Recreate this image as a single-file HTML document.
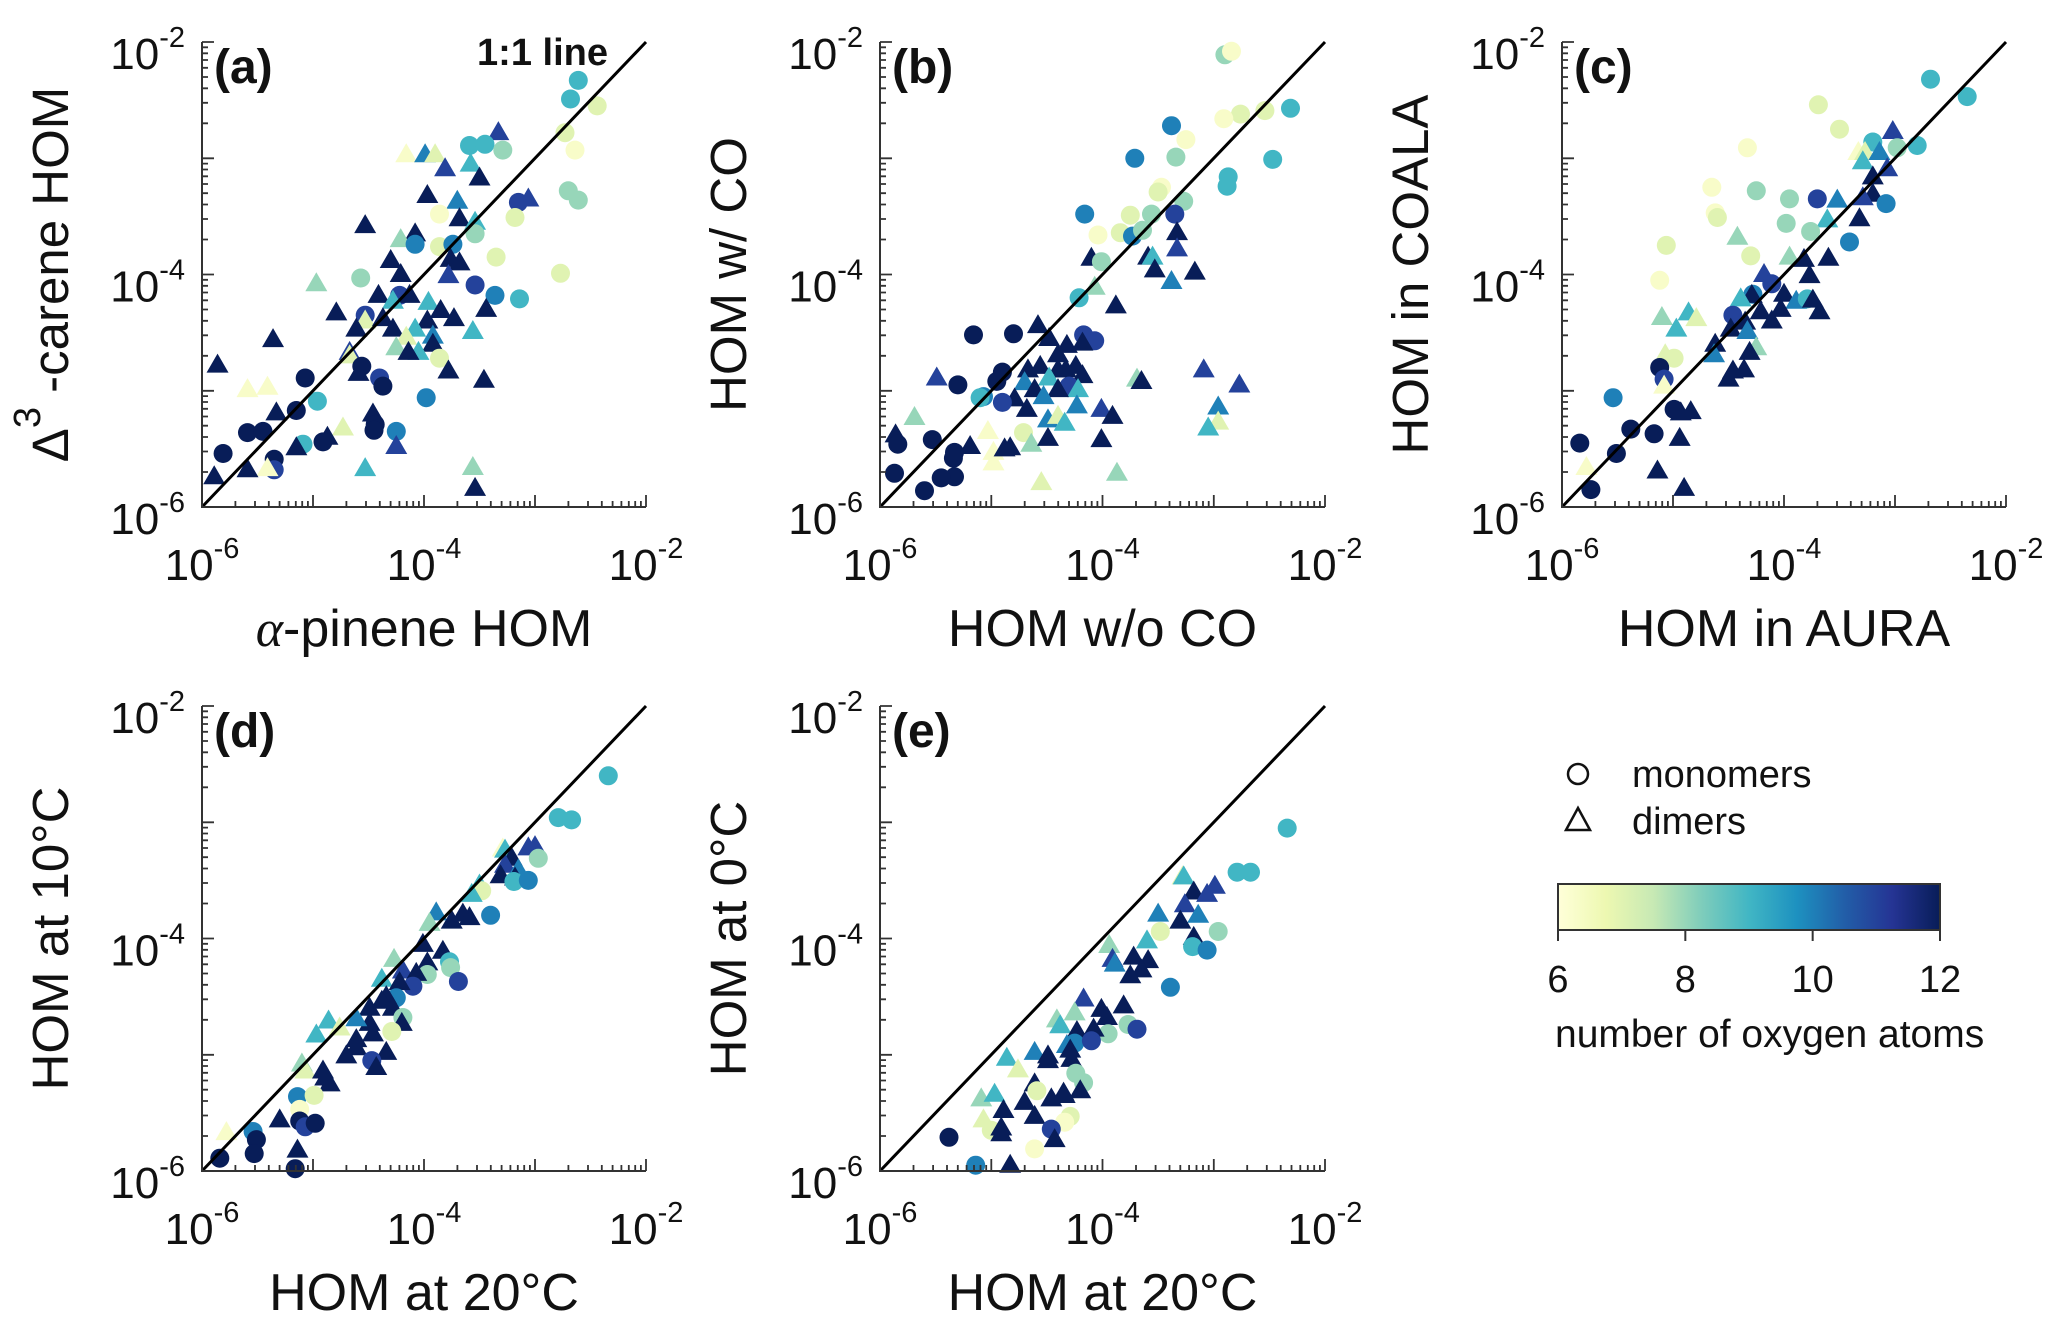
<!DOCTYPE html>
<html><head><meta charset="utf-8"><style>
html,body{margin:0;padding:0;background:#fff;}
svg{display:block;font-family:"Liberation Sans",Arial,sans-serif;}
</style></head><body>
<svg id="fig" xmlns="http://www.w3.org/2000/svg" width="2067" height="1329" viewBox="0 0 2067 1329">
<defs>
<linearGradient id="ylgnbu" x1="0" x2="1" y1="0" y2="0">
<stop offset="0" stop-color="#ffffd9"/><stop offset="0.125" stop-color="#edf8b1"/><stop offset="0.25" stop-color="#c7e9b4"/><stop offset="0.375" stop-color="#7fcdbb"/><stop offset="0.5" stop-color="#41b6c4"/><stop offset="0.625" stop-color="#1d91c0"/><stop offset="0.75" stop-color="#225ea8"/><stop offset="0.875" stop-color="#253494"/><stop offset="1" stop-color="#081d58"/>
</linearGradient>
</defs>
<g id="layer"></g>
<g>
<circle cx="1578" cy="774" r="10" fill="none" stroke="#111" stroke-width="2.5"/>
<text x="1632" y="787" font-size="38" fill="#111">monomers</text>
<polygon points="1578,808 1566,830 1590,830" fill="none" stroke="#111" stroke-width="2.5"/>
<text x="1632" y="834" font-size="38" fill="#111">dimers</text>
</g>
<g>
<rect x="1558" y="884" width="382" height="46" fill="url(#ylgnbu)" stroke="#333" stroke-width="2"/>
<g id="cbticks"></g>
<text x="1555" y="1047" font-size="39" fill="#111">number of oxygen atoms</text>
</g>
</svg>
<script>
// ---------- data (log10 values) ----------
const aX=[-2.61,-2.68,-2.44,-2.73,-2.64,-3.33,-3.59,-3.45,-3.29,-4.16,-3.99,-3.90,-3.81,-3.58,-3.50,-3.97,-3.70,-3.15,-3.06,-2.70,-2.61,-3.86,-3.68,-3.54,-3.54,-3.18,-4.53,-4.08,-4.21,-4.08,-3.86,-3.74,-3.76,-3.68,-4.30,-4.21,-3.35,-2.77,-4.57,-3.78,-3.54,-3.36,-3.14,-4.97,-4.41,-4.22,-4.13,-4.28,-3.96,-3.85,-3.97,-3.73,-3.44,-4.79,-4.53,-4.53,-4.37,-4.61,-4.28,-4.08,-4.16,-3.92,-3.56,-3.92,-4.25,-4.05,-4.14,-3.86,-5.36,-4.67,-4.67,-4.56,-4.59,-3.78,-3.46,-4.40,-4.37,-5.86,-5.07,-5.59,-5.41,-4.96,-3.98,-5.15,-5.33,-4.46,-4.44,-4.45,-4.73,-4.25,-5.59,-5.45,-4.87,-4.91,-5.09,-5.15,-4.25,-5.81,-5.35,-5.35,-5.41,-5.59,-5.89,-4.53,-3.56,-3.54];
const aY=[-2.33,-2.49,-2.55,-2.78,-2.93,-2.78,-2.89,-2.88,-2.93,-2.97,-2.97,-2.97,-3.09,-3.05,-3.17,-3.32,-3.37,-3.38,-3.35,-3.28,-3.36,-3.48,-3.52,-3.55,-3.65,-3.51,-3.58,-3.65,-3.70,-3.74,-3.76,-3.74,-3.87,-3.90,-3.88,-4.00,-3.85,-3.99,-4.03,-4.01,-4.09,-4.18,-4.21,-4.08,-4.18,-4.18,-4.18,-4.23,-4.24,-4.31,-4.40,-4.38,-4.30,-4.33,-4.35,-4.40,-4.38,-4.47,-4.47,-4.47,-4.54,-4.53,-4.49,-4.60,-4.63,-4.67,-4.67,-4.72,-4.56,-4.67,-4.70,-4.79,-4.85,-4.83,-4.91,-4.89,-4.96,-4.78,-4.89,-4.99,-4.97,-5.09,-5.06,-5.17,-5.19,-5.20,-5.29,-5.34,-5.32,-5.35,-5.36,-5.35,-5.40,-5.44,-5.46,-5.49,-5.48,-5.54,-5.59,-5.68,-5.67,-5.68,-5.74,-5.67,-5.66,-5.84];
const aO=[9,9,7,7,6.3,11,9,9,8,6.3,10,7,11,9,12,12,10,11,11,8,8,6.3,12,9,8,7,12,12,8,10,7,10,12,12,12,12,7,7,8,11,11,10,9,8,12,11,12,9,9,12,12,12,12,12,11,7,12,12,12,9,7,10,9,12,8,9,12,7,12,11,7,12,12,12,12,11,12,12,12,6.3,6.3,9,10,12,12,12,12,12,7,10,12,12,12,12,9,12,11,12,12,11,6.3,12,12,9,8,12];
const aS="ccccctccct"+"tttttttctc"+"ccttcctttc"+"ccttttccct"+"cccttctttt"+"ttttcttttt"+"tttttttctt"+"tctttcctct"+"tcccttcctc"+"cctccttccc"+"tttttt";

const bX=[-2.90,-2.84,-2.31,-2.76,-2.54,-2.91,-3.38,-3.25,-3.71,-3.34,-2.47,-2.87,-2.88,-3.47,-3.50,-3.27,-4.16,-3.35,-3.75,-3.56,-4.04,-3.84,-3.73,-3.64,-3.33,-3.33,-3.59,-3.55,-3.53,-3.17,-3.38,-4.10,-4.01,-4.07,-4.21,-3.88,-5.16,-4.80,-4.58,-4.48,-4.17,-4.07,-4.18,-4.32,-4.40,-4.40,-4.56,-4.67,-4.24,-4.18,-4.48,-4.33,-4.30,-4.22,-4.70,-4.61,-4.40,-4.53,-4.79,-4.68,-4.23,-4.90,-4.95,-5.07,-5.10,-4.90,-5.30,-5.49,-5.69,-5.86,-5.84,-5.53,-5.87,-5.34,-5.33,-5.19,-5.33,-5.45,-5.60,-5.03,-4.98,-4.98,-4.88,-4.83,-4.71,-4.64,-4.49,-4.49,-4.40,-4.34,-4.55,-4.01,-3.91,-4.01,-3.87,-3.69,-3.65,-3.09,-2.77,-2.96,-2.96,-3.05];
const bY=[-2.11,-2.08,-2.57,-2.62,-2.59,-2.66,-2.72,-2.84,-3.00,-2.99,-3.01,-3.16,-3.24,-3.25,-3.29,-3.37,-3.48,-3.48,-3.49,-3.48,-3.66,-3.64,-3.67,-3.62,-3.64,-3.78,-3.85,-3.85,-3.96,-3.98,-4.06,-3.86,-3.89,-4.11,-4.20,-4.27,-4.52,-4.51,-4.44,-4.55,-4.52,-4.57,-4.59,-4.61,-4.69,-4.82,-4.79,-4.82,-4.79,-4.87,-4.89,-4.82,-4.96,-4.99,-4.93,-4.99,-4.99,-5.05,-5.07,-5.16,-5.13,-4.84,-4.92,-5.05,-5.06,-5.10,-4.95,-4.89,-5.23,-5.38,-5.46,-5.42,-5.71,-5.58,-5.53,-5.48,-5.74,-5.75,-5.86,-5.35,-5.53,-5.62,-5.50,-5.49,-5.36,-5.46,-5.41,-5.25,-5.22,-5.28,-5.79,-5.16,-5.22,-5.42,-5.71,-4.90,-4.92,-4.82,-4.95,-5.14,-5.27,-5.32];
const bO=[8,6.3,9,7,7,6.3,10,6.3,10,8,9,9,9,6.3,7,8,10,11,7,8,6.3,7,10,8,12,11,12,9,12,12,10,12,8,8,9,12,12,12,12,12,11,11,12,12,12,12,12,12,12,12,9,12,11,9,10,12,12,10,12,12,10,12,12,10,9,11,12,11,8,12,12,12,12,12,12,12,12,12,12,6.3,6.3,6.3,12,12,7,8,12,10,7,9,7,11,12,12,8,8,12,11,11,10,7,9];
const bS="cccccccccccccccccccccccc"+"tttttttt"+"ctctcctt"+"cctttttttt"+"ttcttttttt"+"tccccccttt"+"ccccctccct"+"ttttcttttt"+"tttttttttttt";

const cX=[-2.68,-2.35,-3.69,-3.50,-3.02,-4.33,-3.20,-2.98,-2.80,-3.33,-3.27,-3.14,-3.29,-3.07,-3.20,-3.20,-3.29,-3.08,-4.65,-4.25,-3.95,-3.70,-3.52,-4.62,-4.60,-3.98,-3.61,-3.32,-3.76,-3.41,-4.42,-5.06,-4.30,-3.95,-3.82,-3.60,-3.77,-5.12,-4.18,-4.11,-4.28,-4.29,-4.00,-3.89,-3.79,-3.74,-3.68,-4.39,-4.03,-4.21,-4.11,-4.46,-4.35,-5.10,-4.86,-4.79,-4.97,-4.48,-4.33,-4.62,-4.63,-4.25,-4.31,-4.99,-5.07,-5.12,-5.08,-5.08,-4.46,-4.50,-4.36,-5.54,-4.99,-4.93,-4.84,-5.38,-5.17,-4.94,-5.84,-5.51,-5.78,-5.14,-5.74,-4.90];
const cY=[-2.32,-2.47,-2.54,-2.75,-2.77,-2.91,-2.86,-2.91,-2.89,-2.95,-2.95,-2.95,-3.03,-3.09,-3.16,-3.31,-3.34,-3.39,-3.25,-3.28,-3.35,-3.35,-3.36,-3.47,-3.51,-3.56,-3.53,-3.52,-3.63,-3.72,-3.68,-3.75,-3.84,-3.85,-3.87,-3.86,-4.01,-4.05,-4.00,-4.08,-4.17,-4.18,-4.17,-4.23,-4.21,-4.22,-4.32,-4.21,-4.30,-4.32,-4.40,-4.35,-4.41,-4.37,-4.33,-4.38,-4.47,-4.47,-4.49,-4.60,-4.69,-4.63,-4.67,-4.72,-4.69,-4.80,-4.90,-4.96,-4.83,-4.90,-4.82,-5.06,-5.16,-5.19,-5.18,-5.33,-5.37,-5.41,-5.45,-5.54,-5.66,-5.69,-5.85,-5.84];
const cO=[9,9,7,7,11,6.3,9,8,9,6.3,7,10,9,11,12,12,11,10,6.3,8,8,11,10,6.3,7,8,9,12,8,10,8,7,7,8,12,12,12,6.3,11,11,10,12,12,10,9,12,12,9,12,12,12,11,12,8,9,7,9,12,10,12,10,8,12,7,7,12,11,6.3,12,12,12,10,12,12,12,12,12,12,12,12,6.3,12,12,12];
const cS="cccctcccct"+"tttttttccc"+"cctcccttcc"+"tccttttctc"+"ctttcttttt"+"tctttttttt"+"tttctccttt"+"tccttcctcc"+"ttct";

const dX=[-2.34,-2.79,-2.67,-3.29,-3.27,-3.06,-3.00,-2.97,-3.21,-3.27,-3.15,-3.31,-3.18,-3.19,-3.06,-3.50,-3.48,-3.57,-3.40,-3.89,-3.95,-3.75,-3.65,-3.59,-4.01,-3.83,-3.77,-3.76,-3.69,-4.27,-3.97,-3.97,-4.19,-4.07,-4.10,-4.38,-4.22,-4.25,-4.34,-4.38,-4.28,-4.19,-4.20,-4.49,-4.49,-4.61,-4.29,-4.46,-4.86,-4.76,-4.97,-4.61,-4.61,-4.70,-4.34,-4.47,-4.43,-5.10,-5.07,-4.91,-4.89,-4.85,-5.14,-4.99,-5.12,-5.30,-5.12,-5.07,-4.98,-5.78,-5.54,-5.51,-5.53,-5.84,-5.14,-5.16];
const dY=[-2.60,-2.96,-2.98,-3.23,-3.24,-3.22,-3.21,-3.31,-3.31,-3.37,-3.41,-3.46,-3.48,-3.51,-3.50,-3.54,-3.59,-3.62,-3.80,-3.78,-3.87,-3.85,-3.79,-3.82,-4.05,-4.11,-4.20,-4.25,-4.37,-4.18,-4.21,-4.31,-4.28,-4.30,-4.41,-4.35,-4.38,-4.51,-4.50,-4.54,-4.60,-4.68,-4.73,-4.60,-4.73,-4.69,-4.80,-4.82,-4.71,-4.77,-4.83,-4.87,-4.94,-5.01,-4.98,-5.05,-5.11,-5.08,-5.14,-5.14,-5.20,-5.25,-5.36,-5.35,-5.47,-5.56,-5.57,-5.62,-5.59,-5.67,-5.66,-5.73,-5.85,-5.89,-5.82,-5.98];
const dO=[9,9,9,6.3,9,11,11,8,12,11,10,12,12,9,10,9,7,9,10,10,8,12,12,12,12,12,9,8,11,8,12,8,11,12,11,9,12,10,12,12,12,8,12,12,12,10,7,12,9,7,9,12,12,12,12,11,12,8,7,12,12,12,10,7,6.3,12,12,11,12,6.3,10,12,12,12,12,12];
const dS="cccttttctt"+"tttcctctct"+"ttttttccct"+"tcttcttctt"+"tcttttcttt"+"tttttctttt"+"ttccctccct"+"cccctc";

const eX=[-2.34,-2.79,-2.67,-3.28,-3.27,-3.18,-3.06,-2.99,-3.26,-3.50,-3.14,-3.30,-3.48,-2.96,-3.18,-3.19,-3.06,-3.60,-3.94,-3.91,-3.89,-3.72,-3.59,-3.65,-3.75,-3.39,-4.17,-3.81,-4.01,-3.96,-4.25,-4.41,-4.38,-3.77,-3.69,-3.95,-4.08,-4.23,-4.25,-4.10,-4.32,-4.29,-4.28,-4.61,-4.49,-4.49,-4.86,-4.76,-4.24,-4.17,-4.61,-4.59,-4.35,-4.20,-4.46,-4.34,-4.70,-5.09,-4.97,-4.89,-4.61,-4.29,-5.07,-4.34,-5.00,-4.91,-4.91,-5.38,-4.46,-4.43,-4.61,-5.14,-4.83];
const eY=[-3.05,-3.43,-3.43,-3.47,-3.47,-3.60,-3.62,-3.55,-3.71,-3.79,-3.80,-3.85,-3.94,-3.94,-3.99,-4.07,-4.10,-4.02,-4.06,-4.18,-4.22,-4.16,-4.19,-4.27,-4.32,-4.42,-4.52,-4.58,-4.61,-4.68,-4.64,-4.70,-4.75,-4.74,-4.78,-4.82,-4.78,-4.80,-4.90,-4.88,-4.92,-4.96,-5.04,-4.98,-5.01,-5.05,-5.03,-5.13,-5.16,-5.24,-5.25,-5.31,-5.33,-5.31,-5.38,-5.35,-5.41,-5.38,-5.34,-5.48,-5.53,-5.53,-5.56,-5.58,-5.65,-5.63,-5.68,-5.71,-5.64,-5.73,-5.81,-5.95,-5.95];
const eO=[9,9,9,7,9,12,11,11,11,10,10,12,7,8,12,9,10,9,8,11,10,12,12,12,12,10,11,12,12,12,8,8,9,8,11,8,12,12,10,11,10,12,12,10,12,12,9,7,8,8,12,7,12,12,12,12,12,8,9,12,12,7,7,6.3,7,12,12,12,11,12,6.3,10,12];
const eS="cccttttttt"+"ttcctccttt"+"tttttctttt"+"tttcccttcc"+"ttttttttcc"+"tctttttttt"+"tctccttcct"+"cct";

const decadeTicks=[-6,-5,-4,-3,-2];
const labeledTicks=[-6,-4,-2];
const cbTicks=[6,8,10,12];

// ---------- rendering ----------
const NS="http://www.w3.org/2000/svg";
const layer=document.getElementById('layer');
function mk(tag,attrs,parent){const e=document.createElementNS(NS,tag);for(const k in attrs)e.setAttribute(k,attrs[k]);(parent||layer).appendChild(e);return e;}
const stops=[[255,255,217],[237,248,177],[199,233,180],[127,205,187],[65,182,196],[29,145,192],[34,94,168],[37,52,148],[8,29,88]];
function color(o){let t=Math.max(0,Math.min(1,(o-6)/6))*8;const i=Math.min(7,Math.floor(t));const f=t-i;const a=stops[i],b=stops[i+1];return 'rgb('+a.map((v,k)=>Math.round(v+(b[k]-v)*f)).join(',')+')';}

const panels=[
 {id:'a',x0:202,x1:646,yb:507,yt:42,X:aX,Y:aY,O:aO,S:aS,xt:'α-pinene HOM',yt2:'carene'},
 {id:'b',x0:880,x1:1325,yb:507,yt:42,X:bX,Y:bY,O:bO,S:bS,xt:'HOM w/o CO',yt2:'HOM w/ CO'},
 {id:'c',x0:1562,x1:2006,yb:507,yt:42,X:cX,Y:cY,O:cO,S:cS,xt:'HOM in AURA',yt2:'HOM in COALA'},
 {id:'d',x0:202,x1:646,yb:1171,yt:706,X:dX,Y:dY,O:dO,S:dS,xt:'HOM at 20°C',yt2:'HOM at 10°C'},
 {id:'e',x0:880,x1:1325,yb:1171,yt:706,X:eX,Y:eY,O:eO,S:eS,xt:'HOM at 20°C',yt2:'HOM at 0°C'}
];

panels.forEach(p=>{
 const g=mk('g',{});
 
 
 const sx=v=>p.x0+(v+6)/4*(p.x1-p.x0);
 const sy=v=>p.yb-(v+6)/4*(p.yb-p.yt);
 const mg=mk('g',{},g);
 
 
 const n=Math.min(p.X.length,p.Y.length,p.O.length,p.S.length);
 for(let i=0;i<n;i++){
  const cx=sx(p.X[i]),cy=sy(p.Y[i]),col=color(p.O[i]);
  let m;
  if(p.S[i]==='c'){m=mk('circle',{cx:cx.toFixed(1),cy:cy.toFixed(1),r:9.5,fill:col},mg);
   }
  else{m=mk('polygon',{points:cx+','+(cy-11.5)+' '+(cx-11)+','+(cy+7.5)+' '+(cx+11)+','+(cy+7.5),fill:col},mg);
   }
  
 }
 const ln=mk('line',{x1:sx(-6),y1:sy(-6),x2:sx(-2),y2:sy(-2),stroke:'#000','stroke-width':3},g);
 
 
 const ax=mk('path',{d:'M'+p.x0+','+p.yt+' V'+p.yb+' H'+p.x1,fill:'none',stroke:'#333','stroke-width':2},g);
 
 
 let td='';
 for(let d=-6;d<-2;d++){for(let k=1;k<10;k++){const v=d+Math.log10(k);const L=(k===1)?12:6;
   td+='M'+sx(v).toFixed(1)+','+p.yb+' v'+(-L)+' ';
   td+='M'+p.x0+','+sy(v).toFixed(1)+' h'+L+' ';}}
 td+='M'+sx(-2)+','+p.yb+' v-12 M'+p.x0+','+sy(-2)+' h12';
 const tk=mk('path',{d:td,fill:'none',stroke:'#333','stroke-width':1.8},g);
 
 
 labeledTicks.forEach(v=>{
  const tx=mk('text',{x:sx(v),y:p.yb+73,'font-size':44,'text-anchor':'middle',fill:'#111'},g);
  
  
  tx.innerHTML='10<tspan font-size="29" dy="-22">'+v+'</tspan>';
  const ty=mk('text',{x:p.x0-17,y:sy(v)+27,'font-size':44,'text-anchor':'end',fill:'#111'},g);
  
  
  ty.innerHTML='10<tspan font-size="29" dy="-22">'+v+'</tspan>';
 });
 const cxm=(p.x0+p.x1)/2;
 const xt=mk('text',{x:cxm,y:p.yb+139,'font-size':52,'text-anchor':'middle',fill:'#111'},g);
 
 
 if(p.id==='a'){xt.innerHTML='<tspan font-family="Liberation Serif,serif" font-style="italic">α</tspan>-pinene HOM';}
 else xt.textContent=p.xt;
 const ycx=p.x0-134,ycy=(p.yb+p.yt)/2;
 const yt=mk('text',{x:ycx,y:ycy,'font-size':51,'text-anchor':'middle',fill:'#111',transform:'rotate(-90 '+ycx+' '+ycy+')'},g);
 
 
 if(p.id==='a'){yt.innerHTML='Δ<tspan font-size="38" dy="-28">3</tspan><tspan dy="28"> -carene HOM</tspan>';}
 else yt.textContent=p.yt2;
 const pl=mk('text',{x:p.x0+12,y:p.yt+41,'font-size':48,'font-weight':'bold',fill:'#111'},g);
 
 
 pl.textContent='('+p.id+')';
 if(p.id==='a'){
  const ol=mk('text',{x:608,y:65,'font-size':38,'font-weight':'bold','text-anchor':'end',fill:'#111'},g);
  
  
  ol.textContent='1:1 line';
 }
});

const cbg=document.getElementById('cbticks');
cbTicks.forEach(v=>{
 const x=1558+(v-6)/6*382;
 const t=mk('line',{x1:x,y1:930,x2:x,y2:941,stroke:'#333','stroke-width':2},cbg);
 
 
 const l=mk('text',{x:x,y:992,'font-size':38,'text-anchor':'middle',fill:'#111'},cbg);
 
 
 l.textContent=v;
});
</script>
</body></html>
